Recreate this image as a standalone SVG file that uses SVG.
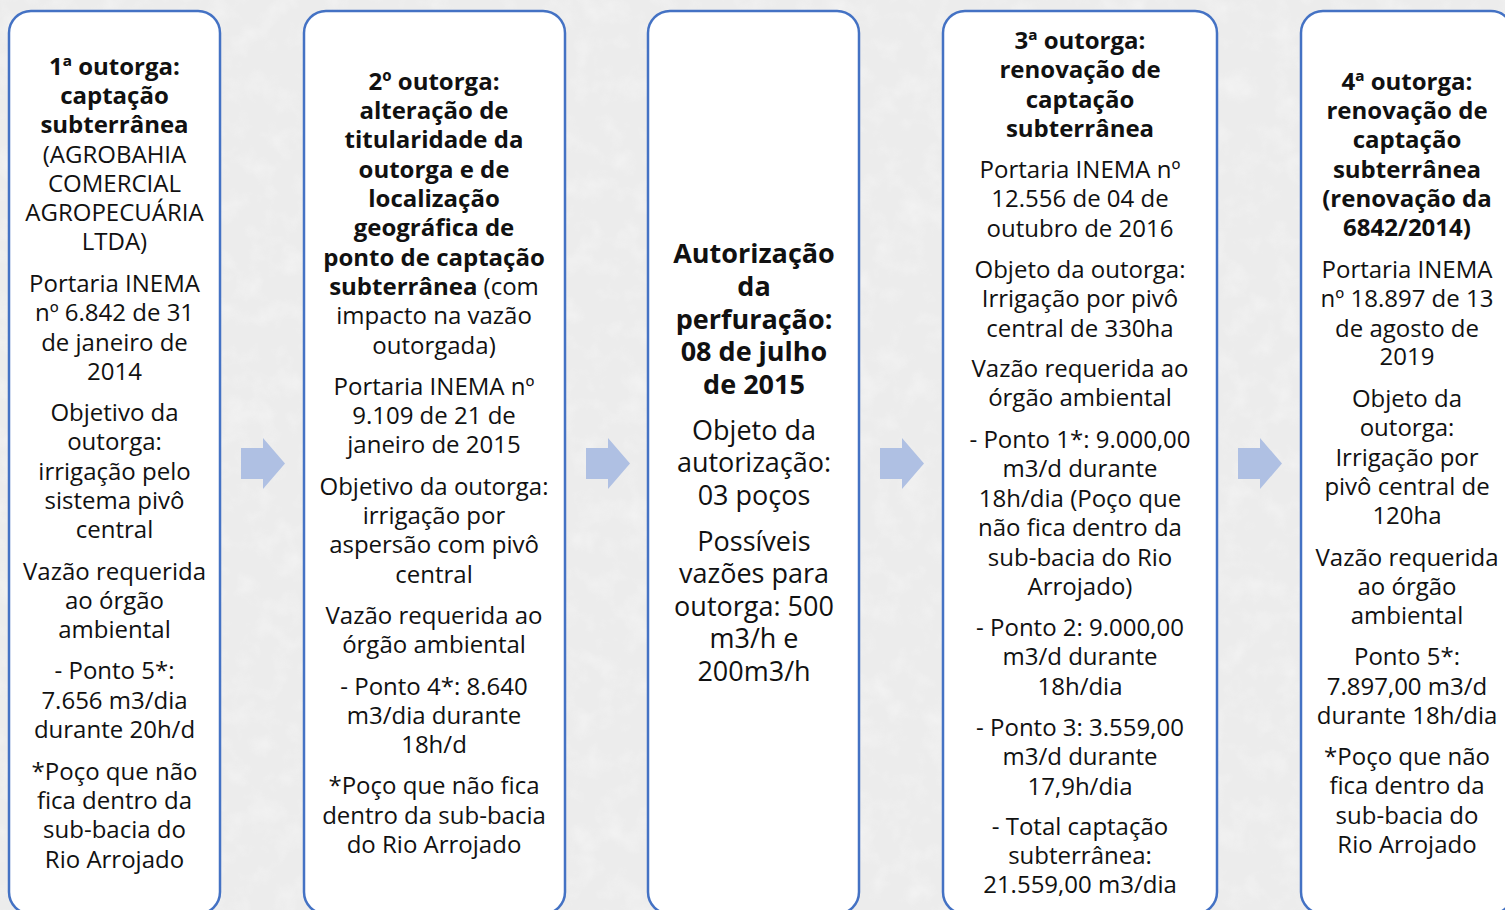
<svg xmlns="http://www.w3.org/2000/svg" width="1505" height="910" viewBox="0 0 1505 910">
<defs>
<style>
.box{fill:#ffffff;stroke:#4472C4;stroke-width:2.5}
.t{font-family:"Open Sans","Noto Sans","Liberation Sans",sans-serif;font-size:24px;fill:#111111;text-anchor:middle}
.b{font-weight:bold}
.t3{font-size:27px}
.arr{fill:#AFC0E3}
</style>
<filter id="tex" x="0" y="0" width="100%" height="100%">
<feTurbulence type="fractalNoise" baseFrequency="0.04" numOctaves="3" seed="3"/>
<feColorMatrix type="matrix" values="0 0 0 0 1  0 0 0 0 1  0 0 0 0 1  1.2 0 0 0 -0.55"/>
</filter>
</defs>
<rect x="0" y="0" width="1505" height="910" fill="#ececec"/>
<rect x="0" y="0" width="1505" height="910" filter="url(#tex)" opacity="0.6"/>

<g id="connectors">
<polygon class="arr" points="241,448 263,448 263,438 285,463.5 263,489 263,479 241,479"/>
<polygon class="arr" points="586,448 608,448 608,438 630,463.5 608,489 608,479 586,479"/>
<polygon class="arr" points="880,448 902,448 902,438 924,463.5 902,489 902,479 880,479"/>
<polygon class="arr" points="1238,448 1260,448 1260,438 1282,463.5 1260,489 1260,479 1238,479"/>
</g>

<g id="node1">
<rect class="box" x="9" y="11" width="211" height="903" rx="22"/>
<text class="t b" x="114.5" y="75">1ª outorga:</text>
<text class="t b" x="114.5" y="104">captação</text>
<text class="t b" x="114.5" y="133">subterrânea</text>
<text class="t" x="114.5" y="163">(AGROBAHIA</text>
<text class="t" x="114.5" y="192">COMERCIAL</text>
<text class="t" x="114.5" y="221">AGROPECUÁRIA</text>
<text class="t" x="114.5" y="250">LTDA)</text>
<text class="t" x="114.5" y="292">Portaria INEMA</text>
<text class="t" x="114.5" y="321">nº 6.842 de 31</text>
<text class="t" x="114.5" y="351">de janeiro de</text>
<text class="t" x="114.5" y="380">2014</text>
<text class="t" x="114.5" y="421">Objetivo da</text>
<text class="t" x="114.5" y="450">outorga:</text>
<text class="t" x="114.5" y="480">irrigação pelo</text>
<text class="t" x="114.5" y="509">sistema pivô</text>
<text class="t" x="114.5" y="538">central</text>
<text class="t" x="114.5" y="580">Vazão requerida</text>
<text class="t" x="114.5" y="609">ao órgão</text>
<text class="t" x="114.5" y="638">ambiental</text>
<text class="t" x="114.5" y="679">- Ponto 5*:</text>
<text class="t" x="114.5" y="709">7.656 m3/dia</text>
<text class="t" x="114.5" y="738">durante 20h/d</text>
<text class="t" x="114.5" y="780">*Poço que não</text>
<text class="t" x="114.5" y="809">fica dentro da</text>
<text class="t" x="114.5" y="838">sub-bacia do</text>
<text class="t" x="114.5" y="868">Rio Arrojado</text>
</g>

<g id="node2">
<rect class="box" x="304" y="11" width="261" height="903" rx="22"/>
<text class="t b" x="434" y="90">2º outorga:</text>
<text class="t b" x="434" y="119">alteração de</text>
<text class="t b" x="434" y="148">titularidade da</text>
<text class="t b" x="434" y="178">outorga e de</text>
<text class="t b" x="434" y="207">localização</text>
<text class="t b" x="434" y="236">geográfica de</text>
<text class="t b" x="434" y="266">ponto de captação</text>
<text class="t" x="434" y="295"><tspan class="b">subterrânea</tspan> (com</text>
<text class="t" x="434" y="324">impacto na vazão</text>
<text class="t" x="434" y="354">outorgada)</text>
<text class="t" x="434" y="395">Portaria INEMA nº</text>
<text class="t" x="434" y="424">9.109 de 21 de</text>
<text class="t" x="434" y="453">janeiro de 2015</text>
<text class="t" x="434" y="495">Objetivo da outorga:</text>
<text class="t" x="434" y="524">irrigação por</text>
<text class="t" x="434" y="553">aspersão com pivô</text>
<text class="t" x="434" y="583">central</text>
<text class="t" x="434" y="624">Vazão requerida ao</text>
<text class="t" x="434" y="653">órgão ambiental</text>
<text class="t" x="434" y="695">- Ponto 4*: 8.640</text>
<text class="t" x="434" y="724">m3/dia durante</text>
<text class="t" x="434" y="753">18h/d</text>
<text class="t" x="434" y="794">*Poço que não fica</text>
<text class="t" x="434" y="824">dentro da sub-bacia</text>
<text class="t" x="434" y="853">do Rio Arrojado</text>
</g>

<g id="node3">
<rect class="box" x="648" y="11" width="211" height="903" rx="22"/>
<text class="t t3 b" x="754" y="263">Autorização</text>
<text class="t t3 b" x="754" y="296">da</text>
<text class="t t3 b" x="754" y="329">perfuração:</text>
<text class="t t3 b" x="754" y="361">08 de julho</text>
<text class="t t3 b" x="754" y="394">de 2015</text>
<text class="t t3" x="754" y="440">Objeto da</text>
<text class="t t3" x="754" y="472">autorização:</text>
<text class="t t3" x="754" y="505">03 poços</text>
<text class="t t3" x="754" y="551">Possíveis</text>
<text class="t t3" x="754" y="583">vazões para</text>
<text class="t t3" x="754" y="616">outorga: 500</text>
<text class="t t3" x="754" y="648">m3/h e</text>
<text class="t t3" x="754" y="681">200m3/h</text>
</g>

<g id="node4">
<rect class="box" x="943" y="11" width="274" height="903" rx="22"/>
<text class="t b" x="1080" y="49">3ª outorga:</text>
<text class="t b" x="1080" y="78">renovação de</text>
<text class="t b" x="1080" y="108">captação</text>
<text class="t b" x="1080" y="137">subterrânea</text>
<text class="t" x="1080" y="178">Portaria INEMA nº</text>
<text class="t" x="1080" y="207">12.556 de 04 de</text>
<text class="t" x="1080" y="237">outubro de 2016</text>
<text class="t" x="1080" y="278">Objeto da outorga:</text>
<text class="t" x="1080" y="307">Irrigação por pivô</text>
<text class="t" x="1080" y="337">central de 330ha</text>
<text class="t" x="1080" y="377">Vazão requerida ao</text>
<text class="t" x="1080" y="406">órgão ambiental</text>
<text class="t" x="1080" y="448">- Ponto 1*: 9.000,00</text>
<text class="t" x="1080" y="477">m3/d durante</text>
<text class="t" x="1080" y="507">18h/dia (Poço que</text>
<text class="t" x="1080" y="536">não fica dentro da</text>
<text class="t" x="1080" y="566">sub-bacia do Rio</text>
<text class="t" x="1080" y="595">Arrojado)</text>
<text class="t" x="1080" y="636">- Ponto 2: 9.000,00</text>
<text class="t" x="1080" y="665">m3/d durante</text>
<text class="t" x="1080" y="695">18h/dia</text>
<text class="t" x="1080" y="736">- Ponto 3: 3.559,00</text>
<text class="t" x="1080" y="765">m3/d durante</text>
<text class="t" x="1080" y="795">17,9h/dia</text>
<text class="t" x="1080" y="835">- Total captação</text>
<text class="t" x="1080" y="864">subterrânea:</text>
<text class="t" x="1080" y="893">21.559,00 m3/dia</text>
</g>

<g id="node5">
<rect class="box" x="1301" y="11" width="212" height="903" rx="22"/>
<text class="t b" x="1407" y="90">4ª outorga:</text>
<text class="t b" x="1407" y="119">renovação de</text>
<text class="t b" x="1407" y="148">captação</text>
<text class="t b" x="1407" y="178">subterrânea</text>
<text class="t b" x="1407" y="207">(renovação da</text>
<text class="t b" x="1407" y="236">6842/2014)</text>
<text class="t" x="1407" y="278">Portaria INEMA</text>
<text class="t" x="1407" y="307">nº 18.897 de 13</text>
<text class="t" x="1407" y="337">de agosto de</text>
<text class="t" x="1407" y="365">2019</text>
<text class="t" x="1407" y="407">Objeto da</text>
<text class="t" x="1407" y="436">outorga:</text>
<text class="t" x="1407" y="466">Irrigação por</text>
<text class="t" x="1407" y="495">pivô central de</text>
<text class="t" x="1407" y="524">120ha</text>
<text class="t" x="1407" y="566">Vazão requerida</text>
<text class="t" x="1407" y="595">ao órgão</text>
<text class="t" x="1407" y="624">ambiental</text>
<text class="t" x="1407" y="665">Ponto 5*:</text>
<text class="t" x="1407" y="695">7.897,00 m3/d</text>
<text class="t" x="1407" y="724">durante 18h/dia</text>
<text class="t" x="1407" y="765">*Poço que não</text>
<text class="t" x="1407" y="794">fica dentro da</text>
<text class="t" x="1407" y="824">sub-bacia do</text>
<text class="t" x="1407" y="853">Rio Arrojado</text>
</g>
</svg>
